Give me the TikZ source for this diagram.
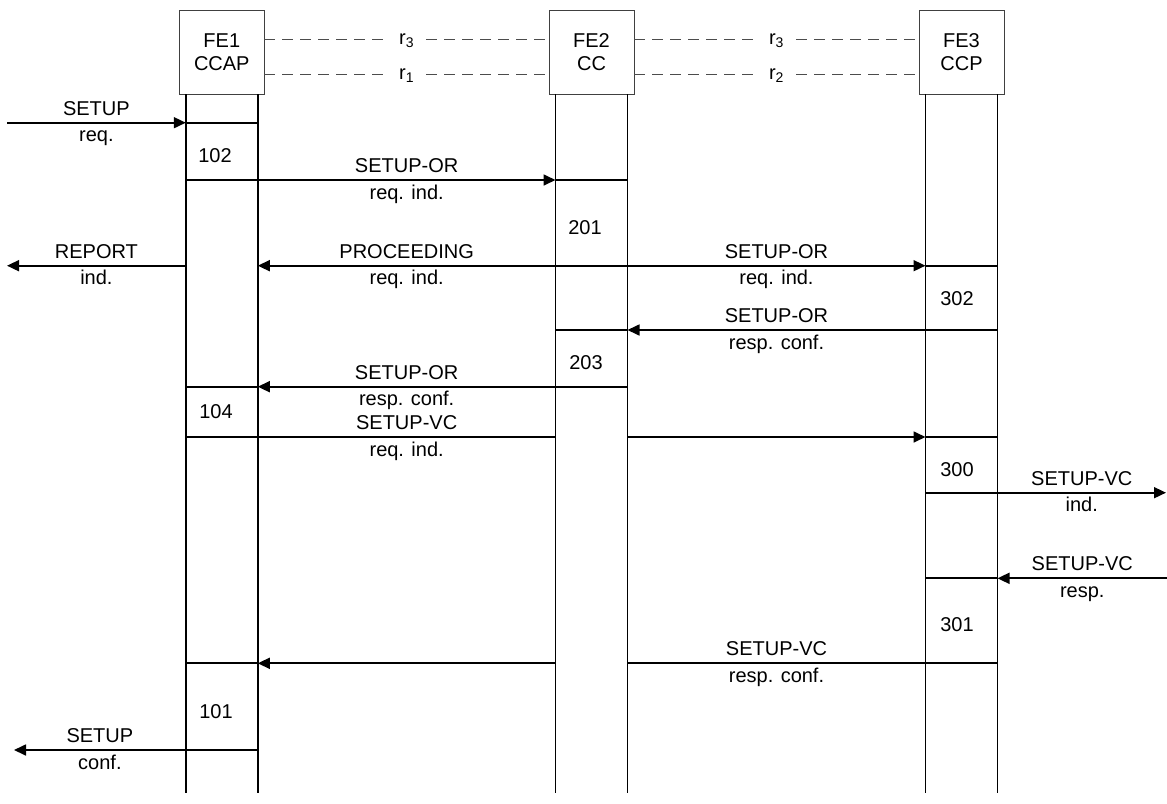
\documentclass[tikz,border=0pt]{standalone}
\usepackage{fontspec}
\setmainfont{Liberation Sans}
\usetikzlibrary{arrows.meta,positioning,calc}

\begin{document}
\begin{tikzpicture}[x=1pt, y=-1pt,
        font=\fontsize{20}{22.5}\selectfont,
        fe/.style={rectangle, draw=black!75, line width=1pt, minimum width=85pt, minimum height=84pt, align=center, inner sep=0pt, outer sep=0pt},
        life/.style={line width=1.8pt},
        line/.style={line width=1.7pt},
        msg/.style={line width=1.7pt, -{Triangle[length=12pt,width=11pt]}},
        rel/.style={line width=0.8pt, black!70, dash pattern=on 11pt off 7pt},
        rlab/.style={fill=white, text=black, inner xsep=12pt, inner ysep=1pt, yshift=-1.5pt},
        lab/.style={inner sep=0pt, text height=14.5pt, text depth=4.2pt},
        up/.style={lab, above=2.3pt},
        down/.style={lab, below=3.8pt},
        num/.style={inner sep=0pt}
    ]
    \useasboundingbox (0,0) rectangle (1167,803);

    % functional entities
    \node[fe] (fe1) at (221.8,52) {FE1\\CCAP};
    \node[fe, right=284.7pt of fe1] (fe2) {FE2\\CC};
    \node[fe, right=285pt of fe2] (fe3) {FE3\\CCP};

    \coordinate (rtop) at (0,39);
    \coordinate (rbot) at (0,74);
    \draw[rel] (fe1.east |- rtop) -- node[rlab] (r13) {r\textsubscript{3}} (fe2.west |- rtop);
    \draw[rel] (fe1.east |- rbot) -- node[rlab] (r1) {r\textsubscript{1}} (fe2.west |- rbot);
    \draw[rel] (fe2.east |- rtop) -- node[rlab] (r23) {r\textsubscript{3}} (fe3.west |- rtop);
    \draw[rel] (fe2.east |- rbot) -- node[rlab] (r2) {r\textsubscript{2}} (fe3.west |- rbot);

    % lifelines
    \coordinate (bot) at (0,793);
    \foreach \n in {1,2,3} {
        \coordinate (a\n) at ([xshift=-36pt]fe\n.south);
        \coordinate (b\n) at ([xshift=36pt]fe\n.south);
        \draw[life] (a\n) -- (a\n |- bot) (b\n) -- (b\n |- bot);
    }
    \foreach \n/\y in {1/122.7, 1/180, 1/386.7, 1/437, 1/663.3, 1/750,
                       2/180, 2/265.7, 2/330, 2/386.7,
                       3/265.7, 3/330, 3/437, 3/492.7, 3/578.3, 3/663.3}
        \draw[life] (a\n |- 0,\y) -- (b\n |- 0,\y);

    \coordinate (ext1) at (7,0);
    \coordinate (ext2) at (14,0);
    \coordinate (ext3) at (1166,0);
    \coordinate (ext4) at (1167,0);

    % messages
    \draw[msg] (ext1 |- 0,122.7) -- node[up] {SETUP} node[down] {req.} (a1 |- 0,122.7);
    \draw[msg] (b1 |- 0,180) -- node[up] {SETUP-OR} node[down] {req. ind.} (a2 |- 0,180);
    \draw[msg] (a2 |- 0,265.7) -- node[up] {PROCEEDING} node[down] {req. ind.} (b1 |- 0,265.7);
    \draw[msg] (a1 |- 0,265.7) -- node[up] {REPORT} node[down] {ind.} (ext1 |- 0,265.7);
    \draw[msg] (b2 |- 0,265.7) -- node[up] {SETUP-OR} node[down] {req. ind.} (a3 |- 0,265.7);
    \draw[msg] (a3 |- 0,330) -- node[up] {SETUP-OR} node[down] {resp. conf.} (b2 |- 0,330);
    \draw[msg] (a2 |- 0,386.7) -- node[up] {SETUP-OR} node[down] {resp. conf.} (b1 |- 0,386.7);
    \draw[line] (b1 |- 0,437) -- node[up] {SETUP-VC} node[down] {req. ind.} (a2 |- 0,437);
    \draw[msg] (b2 |- 0,437) -- (a3 |- 0,437);
    \draw[msg] (b3 |- 0,492.7) -- node[up] {SETUP-VC} node[down] {ind.} (ext3 |- 0,492.7);
    \draw[msg] (ext4 |- 0,578.3) -- node[up] {SETUP-VC} node[down] {resp.} (b3 |- 0,578.3);
    \draw[line] (a3 |- 0,663.3) -- node[up] {SETUP-VC} node[down] {resp. conf.} (b2 |- 0,663.3);
    \draw[msg] (a2 |- 0,663.3) -- (b1 |- 0,663.3);
    \draw[msg] (a1 |- 0,750) -- node[up] {SETUP} node[down] {conf.} (ext2 |- 0,750);

    % states
    \node[num] (s102) at (215,155.7) {102};
    \node[num] (s104) at (216,412) {104};
    \node[num] (s101) at (216,711.7) {101};
    \node[num] (s201) at (585,227.7) {201};
    \node[num] (s203) at (586,362.7) {203};
    \node[num] (s302) at (957,299) {302};
    \node[num] (s300) at (957,470) {300};
    \node[num] (s301) at (957,625) {301};
\end{tikzpicture}
\end{document}
